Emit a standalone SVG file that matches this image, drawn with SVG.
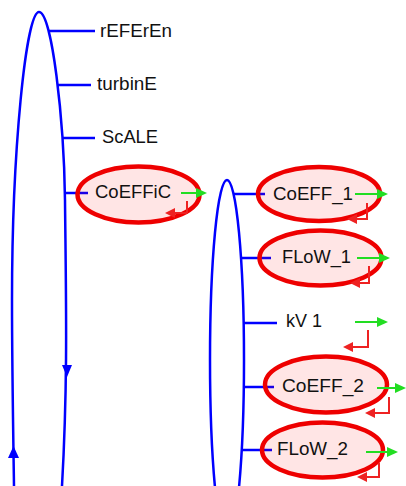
<svg xmlns="http://www.w3.org/2000/svg" xmlns:xlink="http://www.w3.org/1999/xlink" width="406" height="486" viewBox="0 0 406 486">
  <style>
    .wire { fill: none; stroke: #0000ff; stroke-width: 2.5; }
    .bhead { fill: #0000ff; }
    .node { fill: #ff0000; fill-opacity: 0.1; stroke: #ee0000; stroke-width: 4.5; }
    .lbl { font-family: "Liberation Sans", Arial, sans-serif; font-size: 17.5px; fill: #111; }
    .out { fill: none; stroke: #22dd22; stroke-width: 2; }
    .ohead { fill: #22dd22; }
    .back { fill: none; stroke: #ee2222; stroke-width: 2; }
    .rhead { fill: #ee2222; }
  </style>
  <defs>
    <path id="gh" d="M-11,-5 L0,0 L-11,5 z"/>
    <path id="rh" d="M10,-5 L0,0 L10,5 z"/>
  </defs>

  <!-- connectors -->
  <g id="connectors">
    <!-- outer loop -->
    <path class="wire" d="M14,486 C13,420 12,360 12,300 C12,150 26,12 39,12 C52,12 64,120 65,200 C66,300 68,380 62,486"/>
    <polygon class="bhead" points="62,365 72,365 67,377"/>
    <polygon class="bhead" points="8,458 19,458 13.5,446"/>
    <!-- inner loop -->
    <ellipse class="wire" cx="227" cy="360" rx="17" ry="180"/>
    <!-- branches -->
    <path class="wire" d="M48,31 H95"/>
    <path class="wire" d="M58,85 H91"/>
    <path class="wire" d="M63,138 H95"/>
    <path class="wire" d="M64,193 H88"/>
    <path class="wire" d="M234,194 H265"/>
    <path class="wire" d="M241,258 H271"/>
    <path class="wire" d="M243,323 H277"/>
    <path class="wire" d="M243,387 H274"/>
    <path class="wire" d="M242,450 H272"/>
  </g>

  <!-- nodes -->
  <g id="n-referen">
    <text class="lbl" x="100" y="37" textLength="72" lengthAdjust="spacingAndGlyphs">rEFErEn</text>
  </g>
  <g id="n-turbine">
    <text class="lbl" x="97" y="90" textLength="60" lengthAdjust="spacingAndGlyphs">turbinE</text>
  </g>
  <g id="n-scale">
    <text class="lbl" x="102" y="143" textLength="56" lengthAdjust="spacingAndGlyphs">ScALE</text>
  </g>
  <g id="n-coeffic">
    <ellipse class="node" cx="138.5" cy="194.5" rx="61" ry="28"/>
    <text class="lbl" x="95" y="198" textLength="76" lengthAdjust="spacingAndGlyphs">CoEFFiC</text>
    <path class="out" d="M181,193 H198"/>
    <use href="#gh" class="ohead" x="207" y="193"/>
    <path class="back" d="M187,201 V213 H172"/>
    <use href="#rh" class="rhead" x="165" y="213"/>
  </g>
  <g id="n-coeff1">
    <ellipse class="node" cx="319" cy="194" rx="61" ry="27"/>
    <text class="lbl" x="273" y="200" textLength="80" lengthAdjust="spacingAndGlyphs">CoEFF_1</text>
    <path class="out" d="M355,194 H379"/>
    <use href="#gh" class="ohead" x="388" y="194"/>
    <path class="back" d="M367,203 V219 H355"/>
    <use href="#rh" class="rhead" x="347" y="219"/>
  </g>
  <g id="n-flow1">
    <ellipse class="node" cx="320.5" cy="258" rx="61" ry="27.5"/>
    <text class="lbl" x="282" y="263" textLength="69" lengthAdjust="spacingAndGlyphs">FLoW_1</text>
    <path class="out" d="M357,258 H381"/>
    <use href="#gh" class="ohead" x="390" y="258"/>
    <path class="back" d="M369,266 V283 H358"/>
    <use href="#rh" class="rhead" x="350" y="283"/>
  </g>
  <g id="n-kv1">
    <text class="lbl" x="286" y="327" textLength="36" lengthAdjust="spacingAndGlyphs">kV 1</text>
    <path class="out" d="M355,322 H379"/>
    <use href="#gh" class="ohead" x="388" y="322"/>
    <path class="back" d="M368,330 V347 H351"/>
    <use href="#rh" class="rhead" x="343" y="347"/>
  </g>
  <g id="n-coeff2">
    <ellipse class="node" cx="326" cy="384.5" rx="61" ry="28"/>
    <text class="lbl" x="282" y="392" textLength="82" lengthAdjust="spacingAndGlyphs">CoEFF_2</text>
    <path class="out" d="M377,388 H397"/>
    <use href="#gh" class="ohead" x="406" y="388"/>
    <path class="back" d="M389,397 V413 H373"/>
    <use href="#rh" class="rhead" x="365" y="413"/>
  </g>
  <g id="n-flow2">
    <ellipse class="node" cx="322.5" cy="450" rx="60.5" ry="27.5"/>
    <text class="lbl" x="277" y="455" textLength="71" lengthAdjust="spacingAndGlyphs">FLoW_2</text>
    <path class="out" d="M366,452 H389"/>
    <use href="#gh" class="ohead" x="398" y="452"/>
    <path class="back" d="M379,463 V477 H365"/>
    <use href="#rh" class="rhead" x="357" y="477"/>
  </g>
</svg>
